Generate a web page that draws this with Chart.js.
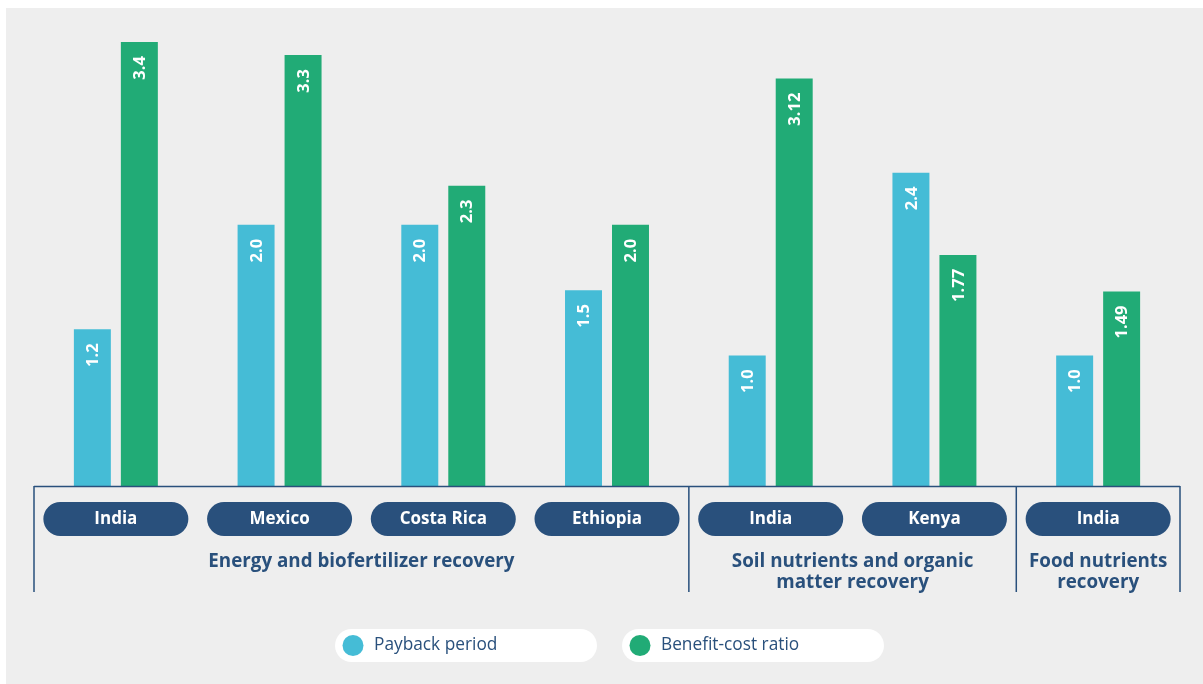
<!DOCTYPE html>
<html>
<head>
<meta charset="utf-8">
<script src="https://cdn.jsdelivr.net/npm/chart.js@4.4.0/dist/chart.umd.min.js"></script>
<style>
  html, body { margin: 0; padding: 0; background: #ffffff; }
  #wrap { position: relative; width: 1203px; height: 684px; }
</style>
</head>
<body>
<div id="wrap"><canvas id="myChart" width="1203" height="684"></canvas></div>
<script>
// data
var countries = ['India', 'Mexico', 'Costa Rica', 'Ethiopia', 'India', 'Kenya', 'India'];
var groups = [
  { lines: ['Energy and biofertilizer recovery'], from: 0, to: 3 },
  { lines: ['Soil nutrients and organic', 'matter recovery'], from: 4, to: 5 },
  { lines: ['Food nutrients', 'recovery'], from: 6, to: 6 }
];
var payback = [1.2, 2.0, 2.0, 1.5, 1.0, 2.4, 1.0];
var paybackLabels = ['1.2', '2.0', '2.0', '1.5', '1.0', '2.4', '1.0'];
var benefit = [3.4, 3.3, 2.3, 2.0, 3.12, 1.77, 1.49];
var benefitLabels = ['3.4', '3.3', '2.3', '2.0', '3.12', '1.77', '1.49'];

var BLUE = '#45bcd6';
var GREEN = '#21ab76';
var NAVY = '#29507c';
var BG = '#eeeeee';

function roundRect(c, x, y, w, h, r) {
  c.beginPath();
  c.moveTo(x + r, y);
  c.lineTo(x + w - r, y);
  c.arc(x + w - r, y + r, r, -Math.PI / 2, Math.PI / 2);
  c.lineTo(x + r, y + h);
  c.arc(x + r, y + r, r, Math.PI / 2, Math.PI * 1.5);
  c.closePath();
}

var decor = {
  id: 'decor',
  beforeDraw: function (chart) {
    var c = chart.ctx;
    c.save();
    c.fillStyle = BG;
    c.fillRect(6, 8, chart.width - 6, chart.height - 8);
    c.restore();
  },
  afterDatasetsDraw: function (chart) {
    var c = chart.ctx;
    var area = chart.chartArea;
    var xs = chart.scales.x;
    var step = (area.right - area.left) / countries.length;
    c.save();

    // value labels inside bars
    var labelSets = [paybackLabels, benefitLabels];
    c.fillStyle = '#ffffff';
    c.font = 'bold 16.5px "Open Sans"';
    c.textAlign = 'right';
    c.textBaseline = 'middle';
    chart.data.datasets.forEach(function (ds, di) {
      chart.getDatasetMeta(di).data.forEach(function (bar, i) {
        c.save();
        c.translate(bar.x + 1, bar.y);
        c.rotate(-Math.PI / 2);
        c.fillText(labelSets[di][i], -14, 0);
        c.restore();
      });
    });

    // axis line and group separators
    c.strokeStyle = NAVY;
    c.lineWidth = 1.5;
    c.beginPath();
    c.moveTo(area.left, area.bottom + 0.5);
    c.lineTo(area.right, area.bottom + 0.5);
    groups.forEach(function (g, gi) {
      var x0 = area.left + g.from * step;
      if (gi === 0) {
        c.moveTo(x0, area.bottom);
        c.lineTo(x0, area.bottom + 106);
      }
      var x1 = area.left + (g.to + 1) * step;
      c.moveTo(x1, area.bottom);
      c.lineTo(x1, area.bottom + 106);
    });
    c.stroke();

    // country pills
    countries.forEach(function (name, i) {
      var cx = xs.getPixelForValue(i);
      c.fillStyle = NAVY;
      roundRect(c, cx - 72.5, area.bottom + 16, 145, 34, 17);
      c.fill();
      c.fillStyle = '#ffffff';
      c.font = 'bold 17px "Open Sans"';
      c.textAlign = 'center';
      c.textBaseline = 'middle';
      c.fillText(name, cx, area.bottom + 33.5);
    });

    // group titles
    c.fillStyle = NAVY;
    c.font = 'bold 18.8px "Open Sans"';
    c.textAlign = 'center';
    c.textBaseline = 'middle';
    groups.forEach(function (g) {
      var cx = area.left + (g.from + g.to + 1) / 2 * step;
      g.lines.forEach(function (ln, li) {
        c.fillText(ln, cx, area.bottom + 76 + li * 21);
      });
    });

    // legend
    var items = [
      { text: chart.data.datasets[0].label, color: BLUE, x: 335 },
      { text: chart.data.datasets[1].label, color: GREEN, x: 622 }
    ];
    items.forEach(function (it) {
      c.fillStyle = '#ffffff';
      roundRect(c, it.x, 629, 262, 33, 16.5);
      c.fill();
      c.fillStyle = it.color;
      c.beginPath();
      c.arc(it.x + 18, 645.5, 10.5, 0, Math.PI * 2);
      c.fill();
      c.fillStyle = NAVY;
      c.font = '17.3px "Open Sans"';
      c.textAlign = 'left';
      c.textBaseline = 'middle';
      c.fillText(it.text, it.x + 39, 645.5);
    });

    c.restore();
  }
};

var ctx = document.getElementById('myChart').getContext('2d');
var myChart = new Chart(ctx, {
  type: 'bar',
  data: {
    labels: countries,
    datasets: [{
      label: 'Payback period',
      data: payback,
      backgroundColor: BLUE
    }, {
      label: 'Benefit-cost ratio',
      data: benefit,
      backgroundColor: GREEN
    }]
  },
  options: {
    responsive: false,
    animation: false,
    categoryPercentage: 0.574,
    barPercentage: 0.787,
    layout: { padding: { left: 34, right: 23, top: 29, bottom: 198 } },
    plugins: {
      legend: { display: false },
      tooltip: { enabled: false }
    },
    scales: {
      x: { display: false },
      y: { display: false, min: 0, max: 3.5 }
    }
  },
  plugins: [decor]
});
</script>
</body>
</html>
